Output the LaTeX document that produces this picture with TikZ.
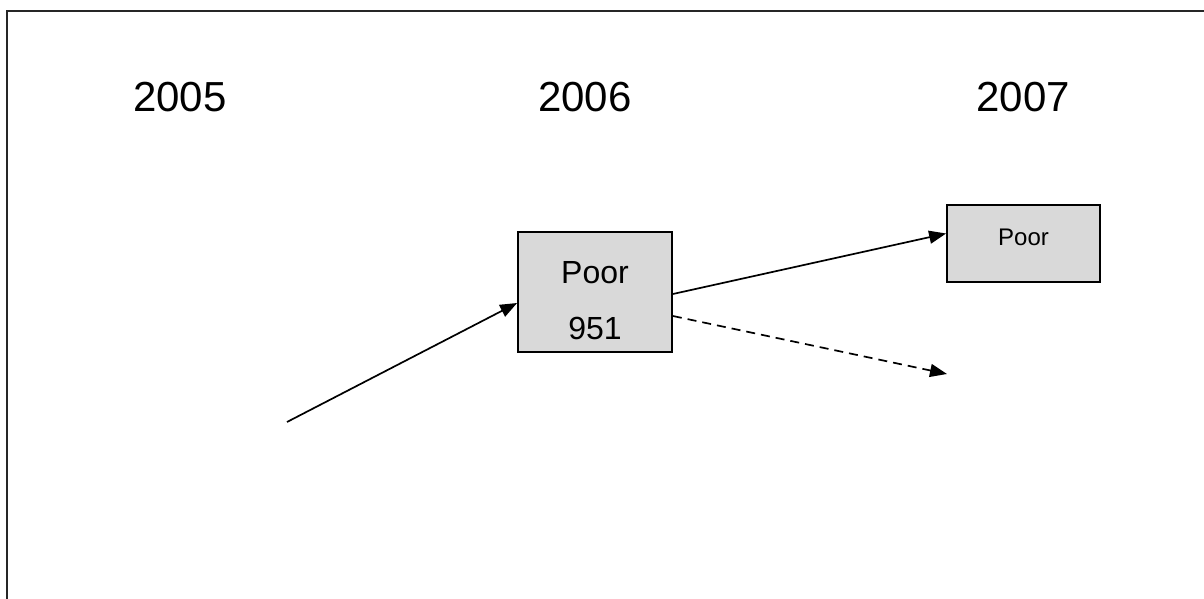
\documentclass[tikz,border=0pt]{standalone}
\usepackage{fontspec}
\setmainfont{Liberation Sans}
\usetikzlibrary{arrows.meta}

\begin{document}
\begin{tikzpicture}[
    x=1pt, y=-1pt,
    year/.style={font=\fontsize{42}{48}\selectfont},
    bigbox/.style={rectangle, draw, line width=1.8pt, fill=black!15, minimum width=154pt, minimum height=120pt, align=center, font=\fontsize{32}{38}\selectfont},
    smallbox/.style={rectangle, draw, line width=1.8pt, fill=black!15, minimum width=153pt, minimum height=77pt, text depth=12pt, font=\fontsize{24}{28}\selectfont},
    arrow/.style={-{Triangle[length=17pt,width=13pt]}, line width=1.7pt},
    dasharrow/.style={-{Triangle[length=17pt,width=13pt]}, line width=1.7pt, dash pattern=on 9pt off 6pt}
]
    \useasboundingbox (0,0) rectangle (1204,599);
    % Frame
    \draw[line width=2pt, draw=black!85] (7,11) rectangle (1240,640);

    % Years
    \node[year] (y2005) at (180,97) {2005};
    \node[year] (y2006) at (585,97) {2006};
    \node[year] (y2007) at (1023,97) {2007};

    % Boxes
    \node[bigbox] (poor06) at (595,292) {\rule{0pt}{39pt}Poor\\[18pt]951};
    \node[smallbox] (poor07) at (1023.5,243.5) {Poor};

    % Arrows
    \coordinate (from05) at (287,422);
    \coordinate (dashend) at (947,374);
    \draw[arrow] (from05) -- ([yshift=-11pt]poor06.west);
    \draw[arrow] ([yshift=-2pt]poor06.east) -- ([yshift=10pt]poor07.west);
    \draw[dasharrow] ([yshift=-24pt]poor06.east) -- (dashend);

\end{tikzpicture}
\end{document}
